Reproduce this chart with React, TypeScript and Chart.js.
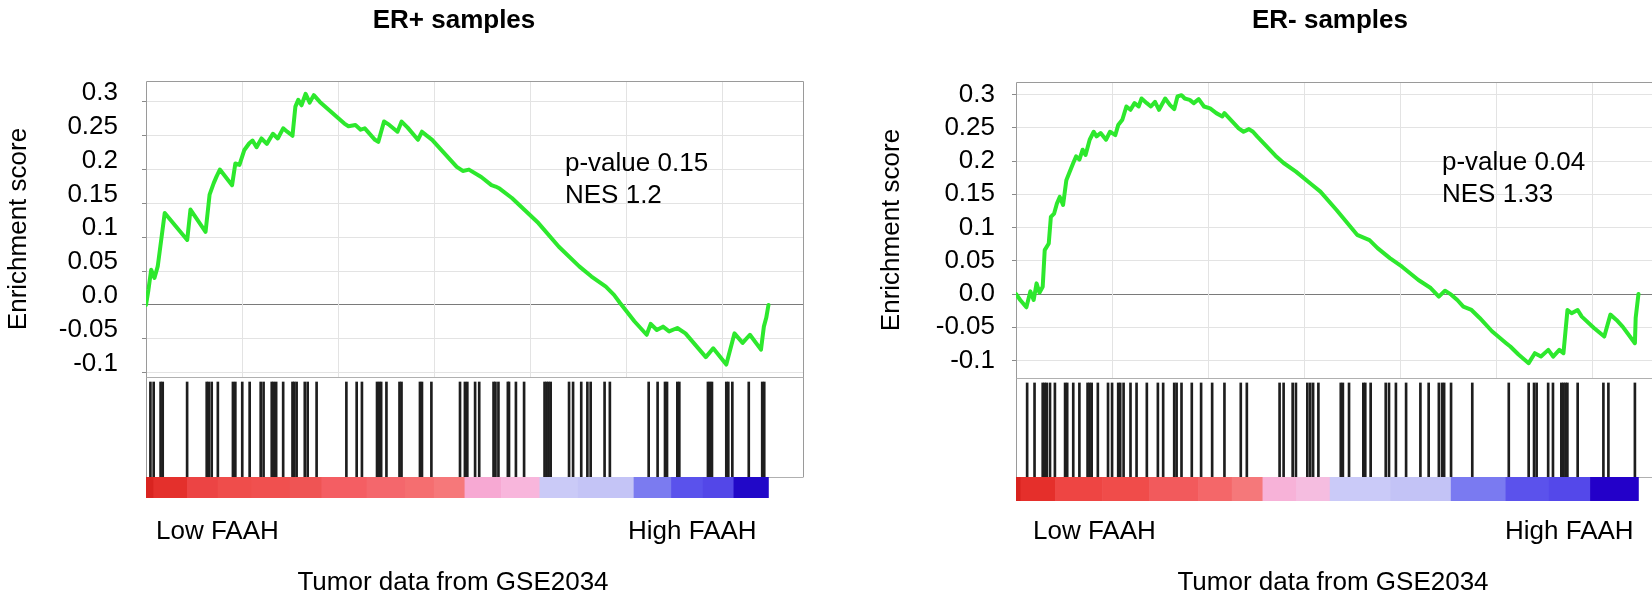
import React, { useEffect, useRef } from 'react';
import { Chart, registerables } from 'chart.js';

Chart.register(...registerables);

// ---------- data ----------
const ES_TICKS = [-0.1, -0.05, 0, 0.05, 0.1, 0.15, 0.2, 0.25, 0.3];
const ES_TICK_LABELS = ['-0.1', '-0.05', '0.0', '0.05', '0.1', '0.15', '0.2', '0.25', '0.3'];
const X_GRID = [100, 200, 300, 400, 500, 600];
const RANK_LABEL = ['rank'];

// ER+ running enrichment score (rank position, score)
const ERPOS_X = [0, 2.5, 5.4, 8.8, 12.2, 19.5, 42.9, 46.3, 62.0, 66.2, 70.5, 73.5, 76.9, 89.6, 93.0, 97.3, 102.4, 107.5, 110.9, 115.1, 120.2, 125.8, 132.1, 137.2, 142.8, 147.0, 152.5, 155.5, 158.5, 161.9, 166.2, 170.4, 174.7, 181.0, 206.5, 210.8, 218.0, 223.5, 227.8, 238.4, 241.8, 247.8, 253.3, 261.8, 266.1, 272.4, 283.1, 287.3, 291.6, 297.9, 323.5, 329.8, 336.2, 349.0, 359.6, 363.9, 368.1, 380.9, 408.5, 429.8, 451.0, 463.8, 478.7, 487.2, 493.5, 508.4, 521.2, 525.4, 531.8, 538.2, 544.6, 553.1, 561.6, 582.8, 590.5, 604.1, 612.6, 621.1, 628.7, 640.2, 643.2, 645.7, 648];
const ERPOS_ES = [0, 0.022, 0.052, 0.040, 0.057, 0.136, 0.096, 0.141, 0.108, 0.163, 0.180, 0.190, 0.200, 0.177, 0.209, 0.207, 0.229, 0.239, 0.243, 0.233, 0.246, 0.238, 0.253, 0.246, 0.261, 0.256, 0.250, 0.293, 0.303, 0.295, 0.312, 0.299, 0.310, 0.300, 0.268, 0.264, 0.266, 0.259, 0.261, 0.244, 0.241, 0.271, 0.266, 0.256, 0.271, 0.262, 0.244, 0.256, 0.251, 0.244, 0.204, 0.198, 0.200, 0.189, 0.177, 0.175, 0.172, 0.158, 0.121, 0.086, 0.057, 0.042, 0.027, 0.015, 0.003, -0.024, -0.044, -0.028, -0.037, -0.032, -0.039, -0.034, -0.042, -0.077, -0.064, -0.088, -0.042, -0.056, -0.044, -0.066, -0.032, -0.019, 0];
const ERPOS_HITS = [4.6, 8.0, 15.2, 17.4, 42.8, 63.2, 65.4, 68.4, 74.8, 90.5, 93.0, 100.2, 107.9, 119.4, 122.4, 130.9, 133.0, 135.5, 142.8, 152.5, 154.3, 156.8, 165.3, 168.3, 177.6, 208.6, 219.3, 224.8, 240.5, 242.7, 244.8, 250.3, 263.9, 266.0, 285.2, 287.3, 297.1, 326.9, 332.0, 334.5, 342.6, 346.9, 361.8, 363.8, 366.9, 376.7, 377.9, 385.1, 393.6, 414.9, 417.0, 419.1, 421.3, 440.4, 444.6, 453.1, 459.5, 462.9, 477.4, 482.9, 523.3, 532.6, 540.3, 542.4, 553.1, 555.2, 585.0, 587.1, 589.2, 604.1, 606.2, 610.4, 627.5, 641.5, 643.6];
const ERPOS_COLOR_EDGES = [0, 8, 43, 75, 110, 150, 183, 230, 270, 300, 332, 370, 410, 450, 508, 547, 580, 612, 648];
const ERPOS_COLORS = ['#d92420', '#e4302c', '#ec4444', '#ef4d4b', '#f0504f', '#ef5454', '#f45e63', '#f4676c', '#f56e70', '#f6787a', '#f7a9d3', '#f8b6dc', '#cacaf7', '#c4c4f6', '#7b7bf0', '#5a52ec', '#5347e8', '#2108c8'];

// ER- running enrichment score
const ERNEG_X = [0, 4.4, 10.8, 15.0, 18.4, 21.4, 24.4, 27.8, 29.9, 34.1, 36.3, 39.7, 42.6, 45.6, 49.0, 52.4, 55.4, 59.6, 62.6, 66.0, 69.4, 72.4, 76.7, 80.9, 83.9, 88.1, 93.7, 97.9, 103.4, 106.4, 110.7, 114.9, 119.2, 123.4, 127.7, 130.7, 136.2, 140.4, 144.7, 148.9, 155.3, 160.4, 164.7, 168.1, 172.3, 175.7, 180.8, 185.1, 190.2, 195.7, 202.1, 208.5, 214.8, 217.0, 225.5, 231.8, 236.9, 242.5, 246.7, 251.0, 270.1, 278.6, 291.4, 308.4, 316.9, 333.9, 355.1, 368.0, 376.4, 389.2, 401.9, 418.9, 431.7, 440.2, 446.6, 453.1, 459.4, 465.7, 474.2, 482.7, 495.5, 510.3, 514.6, 523.1, 533.7, 540.1, 546.5, 554.1, 559.2, 565.6, 569.9, 574.1, 578.4, 584.7, 589.0, 601.7, 612.4, 618.8, 625.1, 631.5, 644.3, 645.1, 648];
const ERNEG_ES = [0, -0.009, -0.020, 0.004, -0.009, 0.016, 0.002, 0.011, 0.066, 0.076, 0.116, 0.121, 0.136, 0.146, 0.134, 0.171, 0.182, 0.197, 0.207, 0.202, 0.217, 0.209, 0.232, 0.244, 0.237, 0.242, 0.232, 0.244, 0.239, 0.254, 0.262, 0.282, 0.277, 0.287, 0.282, 0.294, 0.287, 0.282, 0.289, 0.277, 0.294, 0.284, 0.278, 0.297, 0.299, 0.294, 0.292, 0.287, 0.293, 0.282, 0.279, 0.272, 0.267, 0.272, 0.259, 0.249, 0.244, 0.248, 0.244, 0.237, 0.208, 0.197, 0.184, 0.164, 0.154, 0.126, 0.089, 0.081, 0.069, 0.054, 0.041, 0.021, 0.009, -0.004, 0.005, -0.001, -0.009, -0.019, -0.024, -0.036, -0.056, -0.074, -0.079, -0.091, -0.104, -0.089, -0.094, -0.084, -0.094, -0.084, -0.089, -0.024, -0.029, -0.024, -0.034, -0.051, -0.064, -0.031, -0.039, -0.049, -0.074, -0.036, 0];
const ERNEG_HITS = [11.6, 19.3, 27.8, 29.9, 32.0, 35.4, 40.5, 51.1, 53.3, 59.6, 66.0, 74.5, 76.6, 78.8, 85.2, 95.8, 100.0, 106.4, 108.5, 112.0, 119.2, 125.5, 136.2, 147.7, 153.2, 164.7, 167.2, 172.3, 183.0, 192.7, 204.2, 217.0, 234.0, 240.3, 274.4, 278.6, 288.0, 291.4, 303.3, 306.3, 309.3, 314.8, 338.1, 340.3, 346.7, 361.6, 363.6, 369.2, 384.9, 388.3, 395.5, 406.1, 421.0, 429.6, 440.2, 443.6, 445.7, 452.9, 475.0, 513.0, 533.7, 539.3, 542.0, 554.0, 559.0, 567.7, 569.8, 572.0, 574.0, 584.7, 611.5, 616.7, 644.3];
const ERNEG_COLOR_EDGES = [0, 5, 41, 90, 139, 190, 225, 257, 292, 327, 390, 453, 510, 555, 598, 648];
const ERNEG_COLORS = ['#d8221e', '#e52f2b', '#ee4543', '#f04c4a', '#f25a5c', '#f46769', '#f5787a', '#f7b2d8', '#f5bde0', '#cacaf8', '#c3c3f6', '#7a7af1', '#5b52ec', '#5448ea', '#2300c9'];

// ---------- layout / style ----------
const FONT = "'Liberation Sans', Arial, Helvetica, sans-serif";
const GREEN = 'rgb(45, 232, 45)';
const X_MAX = 685;

type Panel = {
  esX: number[]; esY: number[]; hits: number[]; edges: number[]; colors: string[];
  yMin: number; yMax: number; top: number; bottom: number;
  wES: number; wHits: number; wColor: number;
  axisW: number; tickPad: number; labelOffset: number; titlePad: number;
  canvasW: number; padRight: number;
};

const LEFT_PANEL: Panel = {
  esX: ERPOS_X, esY: ERPOS_ES, hits: ERPOS_HITS, edges: ERPOS_COLOR_EDGES, colors: ERPOS_COLORS,
  yMin: -0.1064, yMax: 0.3309, top: 81, bottom: 498, wES: 296, wHits: 100, wColor: 21,
  axisW: 146, tickPad: 24, labelOffset: -9, titlePad: 3, canvasW: 850, padRight: 46,
};
const RIGHT_PANEL: Panel = {
  esX: ERNEG_X, esY: ERNEG_ES, hits: ERNEG_HITS, edges: ERNEG_COLOR_EDGES, colors: ERNEG_COLORS,
  yMin: -0.1263, yMax: 0.3188, top: 82, bottom: 501, wES: 296, wHits: 99, wColor: 24,
  axisW: 166, tickPad: 17, labelOffset: 0, titlePad: 26, canvasW: 830, padRight: 6,
};

const framePlugin = {
  id: 'gseaFrame',
  beforeDatasetsDraw(chart: any) {
    const { ctx, chartArea } = chart;
    const x = chart.scales.x;
    const y = chart.scales.y;
    const yHits = chart.scales.yHits;
    const yColor = chart.scales.yColor;
    ctx.save();
    ctx.lineWidth = 1;
    ctx.strokeStyle = '#e3e3e3';
    X_GRID.forEach((v) => {
      const px = Math.round(x.getPixelForValue(v)) + 0.5;
      ctx.beginPath();
      ctx.moveTo(px, y.top);
      ctx.lineTo(px, y.bottom);
      ctx.stroke();
    });
    ctx.strokeStyle = '#9a9a9a';
    const l = Math.round(chartArea.left) + 0.5;
    const r = Math.round(chartArea.right) - 0.5;
    const t = Math.round(chartArea.top) + 0.5;
    ctx.beginPath();
    ctx.moveTo(l, Math.round(chartArea.bottom));
    ctx.lineTo(l, t);
    ctx.lineTo(r, t);
    ctx.lineTo(r, Math.round(yColor.top));
    ctx.stroke();
    ctx.strokeStyle = '#b0b0b0';
    [yHits.top, yColor.top].forEach((yy: number) => {
      const py = Math.round(yy) + 0.5;
      ctx.beginPath();
      ctx.moveTo(l, py);
      ctx.lineTo(r, py);
      ctx.stroke();
    });
    ctx.restore();
  },
};

function buildChart(canvas: HTMLCanvasElement, p: Panel) {
  const n = Math.min(p.esX.length, p.esY.length);
  const esData = [] as { x: number; y: number }[];
  for (let i = 0; i < n; i++) esData.push({ x: p.esX[i], y: p.esY[i] });
  const hitData = p.hits.map((h) => ({ x: h, y: [0, 0.95] }));
  const colorData = p.colors.map((_, i) => ({ x: [p.edges[i], p.edges[i + 1]], y: RANK_LABEL[0] }));
  const fit = (s: any) => { s.width = p.axisW; };
  const hidden = {
    display: true,
    stack: 'panel',
    position: 'left' as const,
    afterFit: fit,
    ticks: { display: false },
    grid: { display: false, drawTicks: false },
    border: { display: false },
  };

  return new Chart(canvas, {
    type: 'line',
    data: {
      datasets: [
        {
          type: 'line', label: 'Enrichment score', data: esData as any,
          xAxisID: 'x', yAxisID: 'y', borderColor: GREEN, backgroundColor: GREEN,
          borderWidth: 4, pointRadius: 0, tension: 0, fill: false,
          borderJoinStyle: 'round', borderCapStyle: 'round', order: 0,
        } as any,
        {
          type: 'bar', label: 'hits', data: hitData as any,
          xAxisID: 'x', yAxisID: 'yHits', backgroundColor: '#1e1e1e',
          barThickness: 2, grouped: false, borderWidth: 0, order: 1,
        } as any,
        {
          type: 'bar', label: 'rank', indexAxis: 'y', data: colorData as any,
          xAxisID: 'x', yAxisID: 'yColor', backgroundColor: p.colors,
          barPercentage: 1, categoryPercentage: 1, grouped: false, borderWidth: 0, order: 2,
        } as any,
      ],
    },
    options: {
      responsive: false,
      animation: false,
      events: [],
      layout: { padding: { top: p.top, bottom: 606 - p.bottom, left: 0, right: p.padRight } },
      plugins: { legend: { display: false }, tooltip: { enabled: false }, title: { display: false } },
      scales: {
        x: {
          type: 'linear', min: 0, max: X_MAX, display: false, offset: false,
          grid: { display: false, offset: false },
        },
        yColor: {
          ...hidden, type: 'category', labels: RANK_LABEL, offset: true, stackWeight: p.wColor,
        },
        yHits: {
          ...hidden, type: 'linear', min: 0, max: 1, stackWeight: p.wHits,
        },
        y: {
          type: 'linear', position: 'left', stack: 'panel', stackWeight: p.wES,
          min: p.yMin, max: p.yMax,
          afterFit: fit,
          afterBuildTicks: (s: any) => { s.ticks = ES_TICKS.map((v) => ({ value: v })); },
          ticks: {
            color: '#000', padding: p.tickPad, labelOffset: p.labelOffset,
            autoSkip: false,
            font: { family: FONT, size: 26 },
            callback: (_v: any, i: number) => ES_TICK_LABELS[i],
          },
          grid: {
            color: (c: any) => (c.tick && Math.abs(c.tick.value) < 1e-9 ? '#7a7a7a' : '#e3e3e3'),
            tickColor: '#8a8a8a', tickLength: 4, drawTicks: true,
          },
          border: { display: false },
          title: {
            display: true, text: 'Enrichment score', color: '#000',
            font: { family: FONT, size: 26 }, padding: { top: p.titlePad, bottom: 0 },
          },
        },
      } as any,
    },
    plugins: [framePlugin],
  });
}

type Txt = { t: string[]; left: number; top: number; w?: number; bold?: boolean; center?: boolean; lh?: number };
const TEXTS: Txt[] = [
  { t: ['ER+ samples'], left: 254, top: 6, w: 400, bold: true, center: true },
  { t: ['ER- samples'], left: 1130, top: 6, w: 400, bold: true, center: true },
  { t: ['p-value 0.15', 'NES 1.2'], left: 565, top: 146, lh: 32 },
  { t: ['p-value 0.04', 'NES 1.33'], left: 1442, top: 145, lh: 32 },
  { t: ['Low FAAH'], left: 156, top: 517 },
  { t: ['High FAAH'], left: 628, top: 517 },
  { t: ['Low FAAH'], left: 1033, top: 517 },
  { t: ['High FAAH'], left: 1505, top: 517 },
  { t: ['Tumor data from GSE2034'], left: 253, top: 568, w: 400, center: true },
  { t: ['Tumor data from GSE2034'], left: 1133, top: 568, w: 400, center: true },
];

export default function App() {
  const leftRef = useRef<HTMLCanvasElement>(null);
  const rightRef = useRef<HTMLCanvasElement>(null);

  useEffect(() => {
    const charts: Chart[] = [];
    if (leftRef.current) charts.push(buildChart(leftRef.current, LEFT_PANEL));
    if (rightRef.current) charts.push(buildChart(rightRef.current, RIGHT_PANEL));
    return () => charts.forEach((c) => c.destroy());
  }, []);

  return (
    <div style={{ position: 'absolute', left: 0, top: 0, width: 1652, height: 606, overflow: 'hidden', background: '#fff', fontFamily: FONT, color: '#000' }}>
      <canvas ref={leftRef} width={LEFT_PANEL.canvasW} height={606}
        style={{ position: 'absolute', left: 0, top: 0, width: LEFT_PANEL.canvasW, height: 606 }} />
      <canvas ref={rightRef} width={RIGHT_PANEL.canvasW} height={606}
        style={{ position: 'absolute', left: 850, top: 0, width: RIGHT_PANEL.canvasW, height: 606 }} />
      {TEXTS.map((d, i) => (
        <div key={i} style={{
          position: 'absolute', left: d.left, top: d.top, width: d.w, whiteSpace: 'nowrap',
          textAlign: d.center ? 'center' : 'left', fontSize: 26, lineHeight: `${d.lh || 26}px`,
          fontWeight: d.bold ? 'bold' : 'normal',
        }}>
          {d.t.map((s, j) => <div key={j}>{s}</div>)}
        </div>
      ))}
    </div>
  );
}
